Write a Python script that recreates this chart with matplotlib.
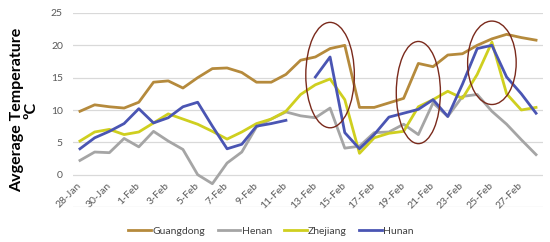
import numpy as np
import pandas as pd
import matplotlib
matplotlib.use('Agg')
import matplotlib.pyplot as plt
from matplotlib.patches import Ellipse

plt.rcParams['font.family'] = ['Lato', 'DejaVu Sans']

dates = pd.date_range('2020-01-28', '2020-02-28', freq='D')
day_labels = [f"{d.day}-{d.strftime('%b')}" for d in dates]

guangdong = [9.8, 10.8, 10.5, 10.3, 11.2, 14.3, 14.5, 13.4, 15.0, 16.4, 16.5, 15.8,
             14.3, 14.3, 15.5, 17.7, 18.2, 19.5, 20.0, 10.4, 10.4, 11.1, 11.8, 17.2,
             16.7, 18.5, 18.7, 20.0, 21.0, 21.7, 21.2, 20.8]
henan = [2.2, 3.5, 3.4, 5.6, 4.3, 6.7, 5.2, 3.9, 0.0, -1.4, 1.8, 3.5,
         7.4, 8.6, 9.7, 9.1, 8.8, 10.3, 4.1, 4.4, 6.5, 6.6, 7.8, 6.2,
         11.1, 9.0, 12.1, 12.4, 9.8, 7.8, 5.4, 3.1]
zhejiang = [5.2, 6.6, 7.0, 6.2, 6.6, 8.0, 9.4, 8.6, 7.8, 6.7, 5.5, 6.6,
            7.9, 8.6, 9.8, 12.4, 13.9, 14.8, 11.6, 3.3, 5.7, 6.4, 6.7, 10.5,
            11.6, 12.9, 11.8, 15.5, 20.5, 12.5, 10.0, 10.4]
hunan = [4.0, 5.7, 6.7, 7.9, 10.2, 8.0, 8.8, 10.5, 11.2, 7.5, 4.0, 4.7,
         7.5, 7.9, 8.4, np.nan, 15.1, 18.2, 6.5, 4.0, 6.2, 8.9, 9.5, 10.1,
         11.6, 9.0, 14.0, 19.5, 20.0, 15.1, 12.5, 9.5]

series = {'Guangdong': guangdong, 'Henan': henan, 'Zhejiang': zhejiang, 'Hunan': hunan}
colors = {'Guangdong': '#B58A3C', 'Henan': '#A5A5A5', 'Zhejiang': '#CFCF1F', 'Hunan': '#4A55B3'}

# highlighted periods: (centre date, centre value, width in days, height in degC)
highlights = [('2020-02-14', 15.4, 3.3, 16.3),
              ('2020-02-20', 12.7, 3.0, 15.8),
              ('2020-02-25', 17.3, 3.3, 12.9)]

fig = plt.figure(figsize=(5.5, 2.42), dpi=100)
ax = fig.add_axes([72.6 / 550, 35 / 242, 470.8 / 550, 194 / 242])

x = np.arange(len(dates))
for name, vals in series.items():
    ax.plot(x, vals, color=colors[name], lw=2.0, label=name, solid_joinstyle='round')

for day, val, w, h in highlights:
    cx = dates.get_loc(pd.Timestamp(day))
    ax.add_patch(Ellipse((cx, val), w, h, fill=False, ec='#7A2A1C', lw=1.0, zorder=5))

ax.set_xlim(-0.5, len(dates) - 0.5)
ax.set_ylim(-5, 25)
ax.set_yticks([-5, 0, 5, 10, 15, 20, 25])
ax.set_yticklabels(['', '0', '5', '10', '15', '20', '25'])
ax.grid(axis='y', color='#D9D9D9', lw=0.9)
ax.set_axisbelow(True)
for s in ax.spines.values():
    s.set_visible(False)
ax.spines['bottom'].set_position(('data', 0))

ax.set_xticks(x[::2])
ax.set_xticklabels(day_labels[::2], rotation=45, ha='right', va='center',
                   rotation_mode='anchor')
ax.tick_params(axis='x', length=0, pad=7, labelsize=7.5, colors='#595959')
ax.tick_params(axis='y', length=0, pad=7, labelsize=7.5, colors='#595959')

ax.set_ylabel('Avgerage Temperature\nºC', fontsize=11.5, fontweight='bold',
              linespacing=1.05, labelpad=9)

fig.legend(loc='center', bbox_to_anchor=(0.493, 0.045), ncol=4, frameon=False,
           fontsize=7.5, handlelength=2.2, handletextpad=0.1, columnspacing=1.2,
           labelcolor='#404040')

fig.savefig('out.png', dpi=100)
